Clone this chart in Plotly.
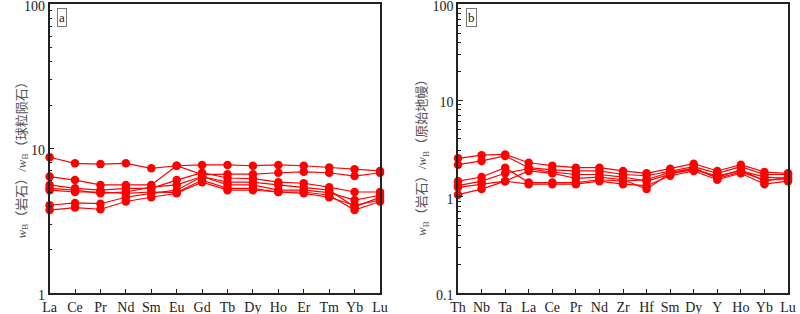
import plotly.graph_objects as go

# ---- Panel a: chondrite-normalised REE ----
ree = ["La", "Ce", "Pr", "Nd", "Sm", "Eu", "Gd", "Tb", "Dy", "Ho", "Er", "Tm", "Yb", "Lu"]
a_s1 = [8.7, 7.9, 7.8, 7.9, 7.3, 7.6, 7.7, 7.7, 7.6, 7.7, 7.6, 7.4, 7.2, 7.0]
a_s2 = [6.4, 6.05, 5.6, 5.6, 5.6, 7.6, 6.6, 6.65, 6.65, 6.8, 6.9, 6.8, 6.45, 6.8]
a_s3 = [5.6, 5.3, 5.15, 5.3, 5.3, 6.05, 6.8, 6.25, 6.2, 5.85, 5.75, 5.4, 5.0, 5.0]
a_s4 = [5.3, 5.15, 4.9, 5.0, 5.4, 5.6, 6.4, 5.6, 5.6, 5.15, 5.15, 4.95, 4.4, 4.75]
a_s5 = [5.15, 5.0, 5.0, 4.9, 5.0, 4.95, 6.05, 5.3, 5.3, 5.0, 4.9, 4.6, 4.05, 4.4]
a_s6 = [4.05, 4.2, 4.15, 4.6, 4.9, 5.15, 6.4, 5.85, 5.85, 5.6, 5.4, 5.15, 3.95, 4.6]
a_s7 = [3.75, 3.9, 3.8, 4.3, 4.6, 4.9, 5.85, 5.15, 5.15, 5.0, 5.0, 4.75, 3.75, 4.3]
a_series = [a_s1, a_s2, a_s3, a_s4, a_s5, a_s6, a_s7]

# ---- Panel b: primitive-mantle-normalised trace elements ----
trace = ["Th", "Nb", "Ta", "La", "Ce", "Pr", "Nd", "Zr", "Hf", "Sm", "Dy", "Y", "Ho", "Yb", "Lu"]
b_s1 = [2.5, 2.7, 2.75, 2.25, 2.1, 2.0, 2.0, 1.85, 1.75, 1.95, 2.2, 1.85, 2.15, 1.8, 1.75]
b_s2 = [2.15, 2.35, 2.65, 2.0, 1.9, 1.85, 1.85, 1.7, 1.65, 1.85, 2.05, 1.75, 2.05, 1.7, 1.7]
b_s3 = [1.45, 1.6, 2.0, 1.4, 1.4, 1.4, 1.5, 1.45, 1.5, 1.8, 1.95, 1.6, 1.9, 1.45, 1.6]
b_s4 = [1.3, 1.45, 1.75, 1.95, 1.8, 1.7, 1.7, 1.6, 1.45, 1.7, 2.0, 1.55, 1.8, 1.5, 1.5]
b_s5 = [1.25, 1.35, 1.45, 1.35, 1.35, 1.35, 1.45, 1.35, 1.3, 1.65, 1.85, 1.5, 1.75, 1.35, 1.45]
b_s6 = [1.05, 1.2, 1.45, 1.85, 1.75, 1.55, 1.6, 1.5, 1.2, 1.75, 1.9, 1.65, 1.85, 1.6, 1.55]
b_series = [b_s1, b_s2, b_s3, b_s4, b_s5, b_s6]

RED = "#ff0000"
SERIF = "Liberation Serif, Times New Roman, serif"

fig = go.Figure()
for s in a_series:
    fig.add_trace(go.Scatter(x=ree, y=s, mode="lines+markers", xaxis="x", yaxis="y",
                             line=dict(color=RED, width=1.2),
                             marker=dict(color=RED, size=8.5, symbol="circle"),
                             cliponaxis=False, showlegend=False))
for s in b_series:
    fig.add_trace(go.Scatter(x=trace, y=s, mode="lines+markers", xaxis="x2", yaxis="y2",
                             line=dict(color=RED, width=1.2),
                             marker=dict(color=RED, size=8.5, symbol="circle"),
                             cliponaxis=False, showlegend=False))

def xax(dom, n, anchor):
    return dict(domain=dom, range=[0, n - 1], anchor=anchor, automargin=False,
                showline=True, linecolor="#222", linewidth=1.5,
                mirror=True, ticks="inside", ticklen=4, tickcolor="#222", showgrid=False,
                zeroline=False, tickfont=dict(family=SERIF, size=14, color="#222"),
                ticklabeloverflow="allow", fixedrange=True)

def yax(rng, anchor):
    return dict(domain=[0.0669, 0.987], type="log", range=rng, anchor=anchor, automargin=False,
                showline=True, linecolor="#222",
                linewidth=1.5, mirror=True, ticks="inside", ticklen=5, tickcolor="#222",
                showgrid=False, zeroline=False,
                tickvals=[0.1, 1, 10, 100], ticktext=["0.1", "1", "10", "100"],
                minor=dict(ticks="inside", ticklen=3, tickcolor="#222", showgrid=False,
                           dtick="D1"),
                tickfont=dict(family=SERIF, size=14, color="#222"), ticklabelshift=2,
                ticklabeloverflow="allow", fixedrange=True)

fig.update_layout(
    width=800, height=314, margin=dict(l=0, r=0, t=0, b=0),
    paper_bgcolor="white", plot_bgcolor="white",
    xaxis=xax([0.062, 0.475], len(ree), "y"),
    yaxis=yax([0, 2], "x"),
    xaxis2=xax([0.5725, 0.985], len(trace), "y2"),
    yaxis2=yax([-1, 2], "x2"),
)

cjk = "Liberation Serif, Noto Sans CJK SC, serif"
fig.add_annotation(xref="paper", yref="paper", x=11 / 800, y=1 - 157 / 314,
                   text="<i>w</i><sub>B</sub>（岩石）/<i>w</i><sub>B</sub>（球粒陨石）",
                   textangle=-90, showarrow=False, font=dict(family=cjk, size=13, color="#555"))
fig.add_annotation(xref="paper", yref="paper", x=422 / 800, y=1 - 155 / 314,
                   text="<i>w</i><sub>B</sub>（岩石）/<i>w</i><sub>B</sub>（原始地幔）",
                   textangle=-90, showarrow=False, font=dict(family=cjk, size=13, color="#555"))

for lab, xr, yr in [("a", "x domain", "y domain"), ("b", "x2 domain", "y2 domain")]:
    fig.add_annotation(xref=xr, yref=yr, x=0.023, y=0.985, xanchor="left", yanchor="top",
                       text=lab, showarrow=False, bordercolor="#777", borderwidth=1, borderpad=1,
                       bgcolor="white", font=dict(family=SERIF, size=13, color="#222"))

fig.write_html("out.html", config={"displayModeBar": False},
               post_script="document.body.style.margin='0';")
